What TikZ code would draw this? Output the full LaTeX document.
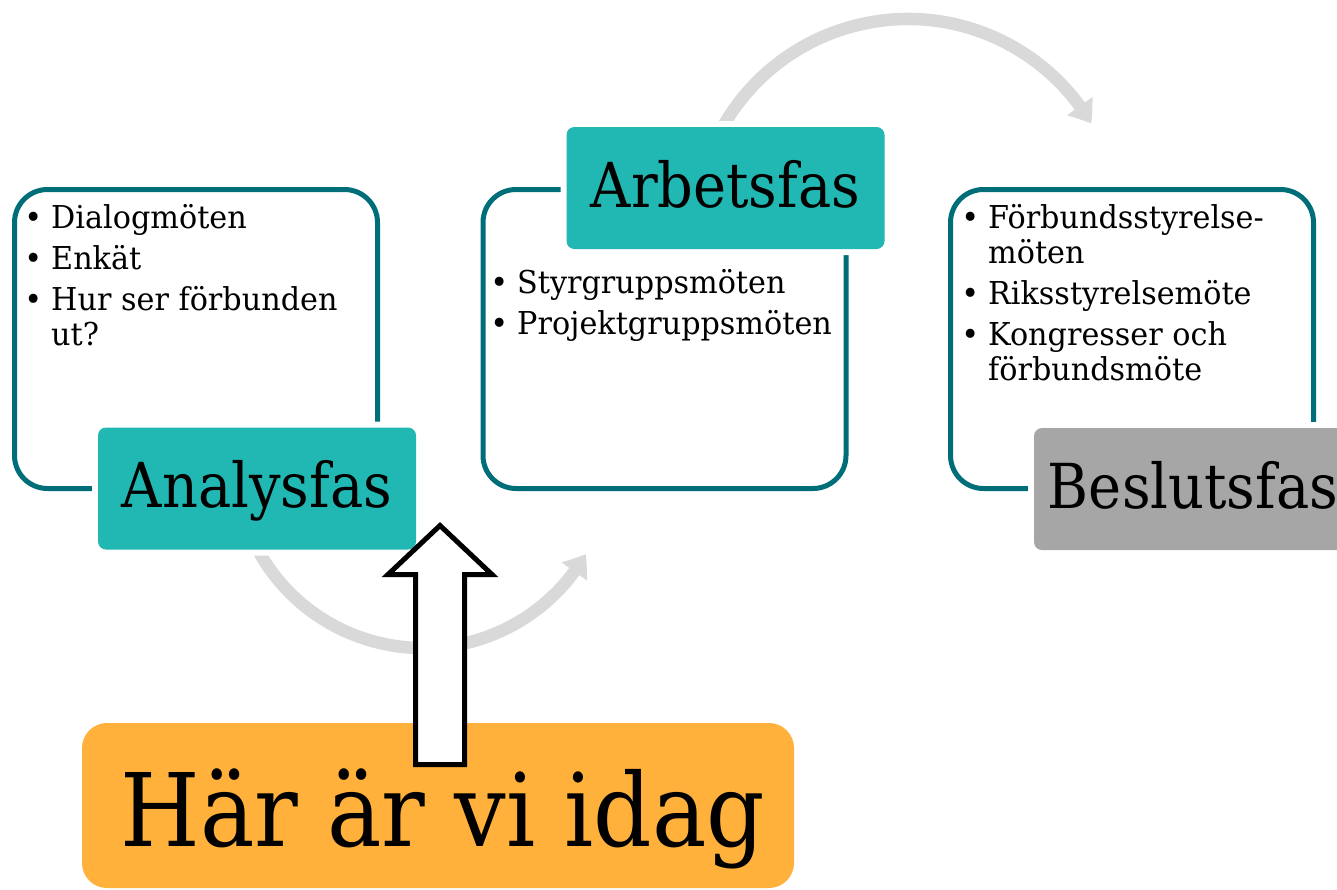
\documentclass[tikz,border=0pt]{standalone}
\usepackage{fontspec}
\setmainfont{DejaVu Serif}
\newfontfamily\labfont[FakeStretch=0.9]{DejaVu Serif}
\newfontfamily\txtfont[FakeStretch=0.96]{DejaVu Serif}
\usetikzlibrary{arrows.meta,bending}
\definecolor{boxline}{RGB}{0,110,120}
\definecolor{tealfill}{RGB}{33,184,180}
\definecolor{grayfill}{RGB}{166,166,166}
\definecolor{orangefill}{RGB}{255,177,59}
\definecolor{arcgray}{RGB}{217,217,217}
\newcommand{\mybul}{\makebox[36pt][c]{•}}
\newcommand{\myind}{\hspace*{36pt}}
\tikzset{
  phasebox/.style={draw=boxline, line width=5pt, rounded corners=33pt,
    minimum width=363pt, minimum height=299pt, inner sep=0pt},
  phaselabel/.style={rounded corners=8pt, minimum width=318pt, minimum height=122pt,
    inner sep=0pt, text height=38pt, text depth=0pt,
    font=\labfont\fontsize{62pt}{70pt}\selectfont, preaction={draw=white, line width=12pt}},
  li/.style={anchor=base west, inner sep=0pt, font=\txtfont\fontsize{31.5pt}{35pt}\selectfont},
  cyclearc/.style={draw=arcgray, line width=12.5pt,
    -{Triangle[length=21pt,width=30pt,bend]}},
  herebox/.style={fill=orangefill, rounded corners=25pt, minimum width=712pt,
    minimum height=165pt, inner sep=0pt, text height=81pt, text depth=0pt,
    font=\labfont\fontsize{101.5pt}{110pt}\selectfont},
  bigarrow/.style={draw=black, fill=white, line width=5pt, miter limit=10},
}
\begin{document}
\begin{tikzpicture}[x=1pt,y=1pt]
\useasboundingbox (0,0) rectangle (1337,-889);
% cycle arcs
\coordinate (topc) at (908,-232);
\coordinate (botc) at (423,-460);
\draw[cyclearc] (topc) ++(151:213) arc[start angle=151, end angle=30.6, radius=213];
\draw[cyclearc] (botc) ++(-152:188) arc[start angle=-152, end angle=-30, radius=188];
% boxes
\node[phasebox] (b1) at (196,-339) {};
\node[phasebox] (b2) at (664.5,-339) {};
\node[phasebox] (b3) at (1132,-339) {};
% box texts
\node[li] (t1a) at (15,-228) {\mybul Dialogmöten};
\node[li] (t1b) at (15,-269) {\mybul Enkät};
\node[li] (t1c) at (15,-310) {\mybul Hur ser förbunden};
\node[li] (t1d) at (15,-345) {\myind ut?};
\node[li] (t2a) at (481,-293) {\mybul Styrgruppsmöten};
\node[li] (t2b) at (481,-334) {\mybul Projektgruppsmöten};
\node[li] (t3a) at (952,-228) {\mybul Förbundsstyrelse-};
\node[li] (t3b) at (952,-263) {\myind möten};
\node[li] (t3c) at (952,-304) {\mybul Riksstyrelsemöte};
\node[li] (t3d) at (952,-345) {\mybul Kongresser och};
\node[li] (t3e) at (952,-380) {\myind förbundsmöte};
% phase labels
\node[phaselabel, fill=tealfill] (la) at (257,-488.5) {Analysfas};
\node[phaselabel, fill=tealfill] (lb) at (725.5,-188) {Arbetsfas};
\node[phaselabel, fill=grayfill] (lc) at (1193,-489) {Beslutsfas};
% here box
\node[herebox] (here) at (438,-805.5) {\hspace*{10pt}Här är vi idag};
% big arrow
\draw[bigarrow] (415.5,-764.5) -- (415.5,-574.5) -- (388,-574.5) -- (440,-525.5)
  -- (492,-574.5) -- (464.5,-574.5) -- (464.5,-764.5) -- cycle;
\end{tikzpicture}
\end{document}
